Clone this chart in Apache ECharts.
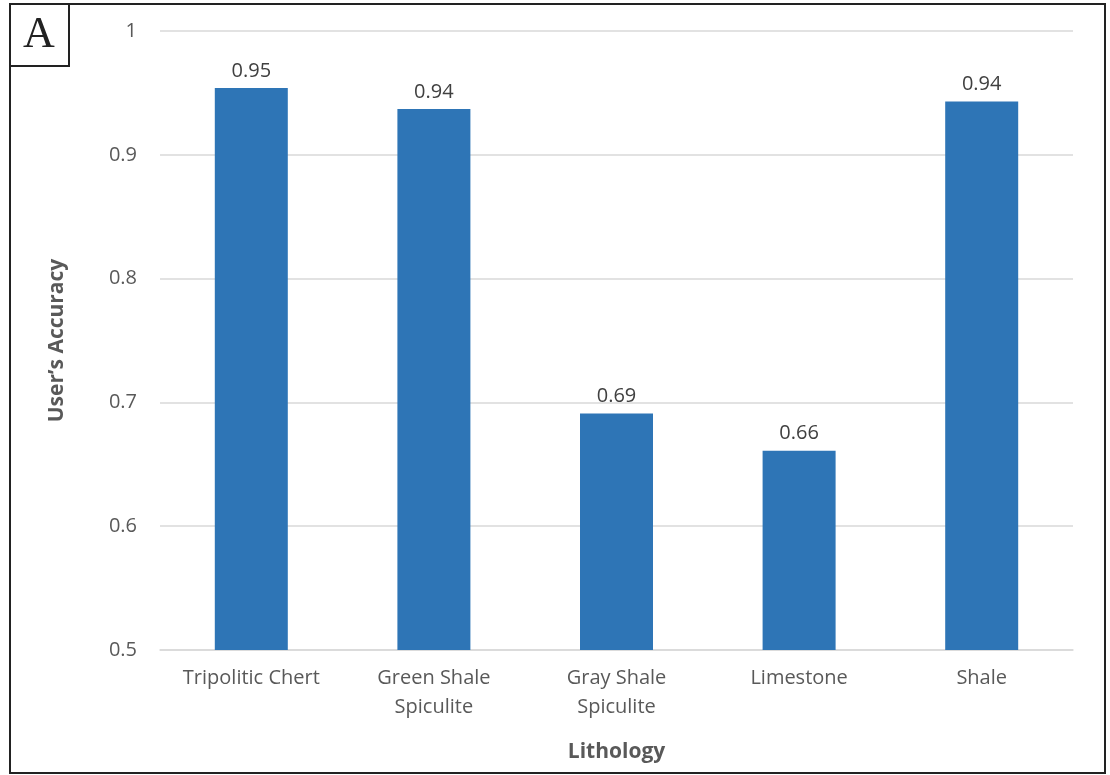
<!DOCTYPE html>
<html>
<head>
<meta charset="utf-8">
<script src="https://cdn.jsdelivr.net/npm/echarts@6/dist/echarts.min.js"></script>
<style>
  html, body { margin: 0; padding: 0; background: #fff; }
  #chart { width: 1110px; height: 775px; }
</style>
</head>
<body>
<div id="chart"></div>
<script>
// Classification accuracy per lithology class
const categories = ['Tripolitic Chert', 'Green Shale\nSpiculite', 'Gray Shale\nSpiculite', 'Limestone', 'Shale'];
const usersAccuracy = [0.954, 0.937, 0.691, 0.661, 0.943];
const yTicks = [0.5, 0.6, 0.7, 0.8, 0.9, 1];

const textFont = '"Open Sans", "Noto Sans", sans-serif';
const chart = echarts.init(document.getElementById('chart'));

chart.setOption({
  animation: false,
  backgroundColor: '#fff',
  grid: { left: 160, right: 37, top: 31, bottom: 125, containLabel: false },
  graphic: [
    {
      type: 'rect',
      shape: { x: 10, y: 4, width: 1095, height: 769 },
      style: { fill: 'none', stroke: '#222', lineWidth: 2 },
      silent: true
    },
    {
      type: 'rect',
      shape: { x: 10, y: 4, width: 59, height: 62 },
      style: { fill: '#fff', stroke: '#222', lineWidth: 2 },
      silent: true
    },
    {
      type: 'text',
      left: 23, top: 13,
      style: { text: 'A', font: '44px "Liberation Serif", "DejaVu Serif", serif', fill: '#222' },
      silent: true
    }
  ],
  xAxis: {
    type: 'category',
    data: categories,
    name: 'Lithology',
    nameLocation: 'middle',
    nameGap: 92,
    nameTextStyle: { fontFamily: textFont, fontSize: 21, fontWeight: 'bold', color: '#595959' },
    axisLine: { show: true, lineStyle: { color: '#d9d9d9', width: 1.5 } },
    axisTick: { show: false },
    axisLabel: { fontFamily: textFont, fontSize: 20, color: '#595959', margin: 14, lineHeight: 29, interval: 0 }
  },
  yAxis: {
    type: 'value',
    min: yTicks[0],
    max: yTicks[yTicks.length - 1],
    interval: 0.1,
    name: 'User\u2019s Accuracy',
    nameLocation: 'middle',
    nameGap: 92,
    nameTextStyle: { fontFamily: textFont, fontSize: 21, fontWeight: 'bold', color: '#595959' },
    axisLine: { show: false },
    axisTick: { show: false },
    splitLine: { lineStyle: { color: '#d9d9d9', width: 1.5 } },
    axisLabel: {
      fontFamily: textFont, fontSize: 20, color: '#595959', margin: 23,
      formatter: v => String(Math.round(v * 10) / 10)
    }
  },
  series: [{
    type: 'bar',
    data: usersAccuracy,
    barWidth: 73,
    itemStyle: { color: '#2E75B6' },
    label: {
      show: true,
      position: 'top',
      distance: 7,
      fontFamily: textFont,
      fontSize: 20,
      color: '#404040',
      formatter: p => p.value.toFixed(2)
    }
  }]
});
</script>
</body>
</html>
